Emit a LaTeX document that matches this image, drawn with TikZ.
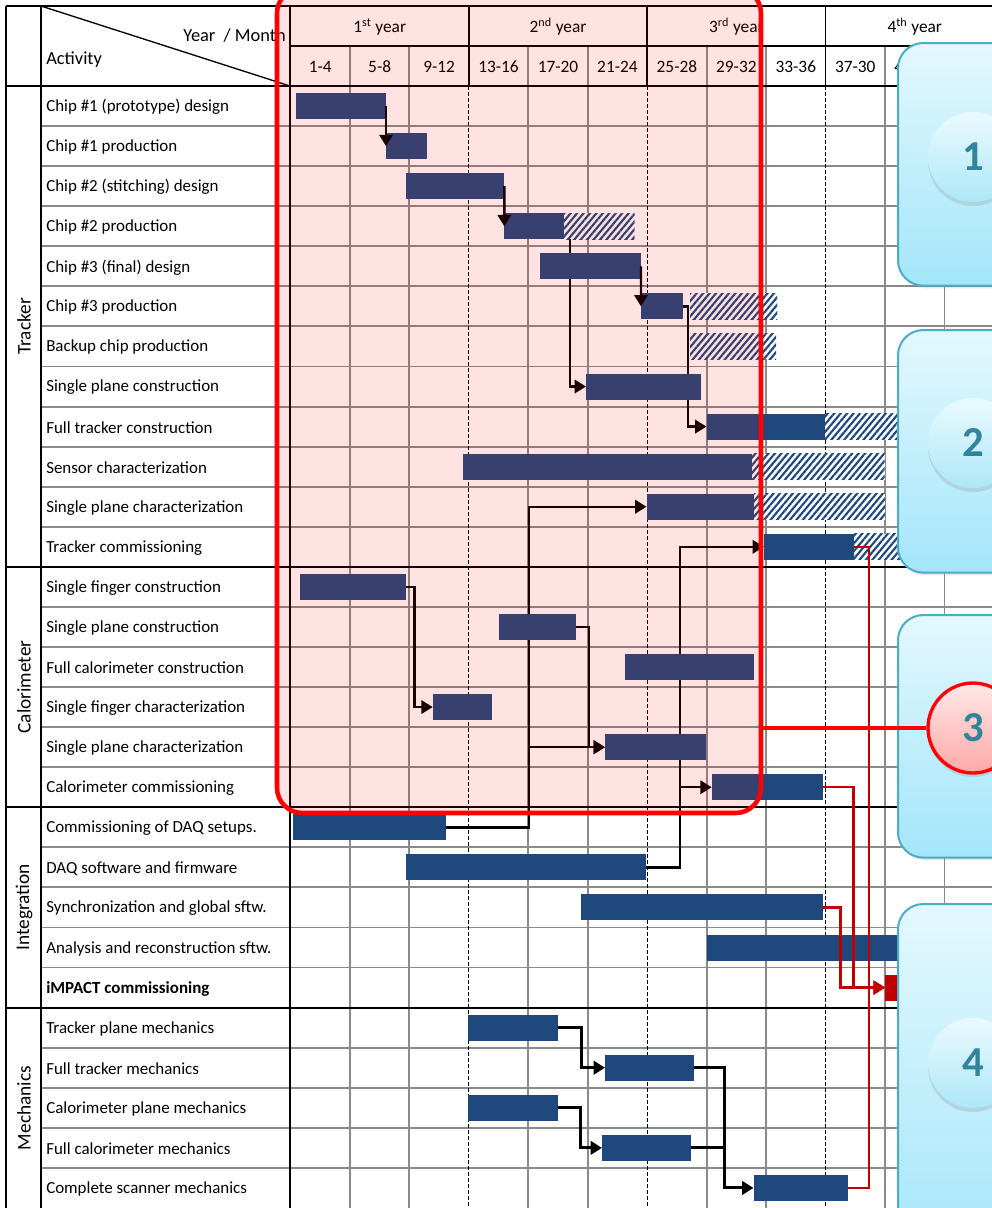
\documentclass[tikz,border=0pt]{standalone}
\usepackage{fontspec}
\setmainfont{Carlito}
\usetikzlibrary{arrows.meta,patterns.meta,shadows}

\definecolor{barblue}{HTML}{1F497D}
\definecolor{cellgray}{HTML}{8A8A8A}
\definecolor{linkred}{HTML}{C00000}
\definecolor{boxtop}{HTML}{E4F8FE}
\definecolor{boxbot}{HTML}{A3E5F9}
\definecolor{boxline}{HTML}{4BACC6}
\definecolor{numteal}{HTML}{31849B}
\definecolor{disctop}{HTML}{EAFAFE}
\definecolor{discbot}{HTML}{ADE7F8}
\definecolor{pinktop}{HTML}{FFE8E8}
\definecolor{pinkbot}{HTML}{FFA8A8}

% one bar of the chart: name, row, start, end
\newcommand{\gbar}[5][ganttbar]{%
  \node[#1, minimum width={(#5-#4)*0.75pt}] (#2) at (#4,{ry(#3)}) {};}

\begin{document}
\begin{tikzpicture}[x=0.75pt, y=-0.75pt,
  declare function={ry(\i)=106.03+40.07*\i; colx(\k)=290.5+59.45*\k;},
  tabrule/.style={black, line width=1.4pt},
  cellrule/.style={cellgray, line width=1.4pt},
  yearrule/.style={black, line width=0.7pt, dash pattern=on 3pt off 1.5pt},
  hd/.style={font=\fontsize{13}{15}\selectfont, inner sep=0pt},
  act/.style={font=\fontsize{12.7}{15}\selectfont, inner sep=0pt, anchor=west},
  grp/.style={font=\fontsize{14.5}{16}\selectfont, inner sep=0pt, rotate=90},
  ganttbar/.style={rectangle, fill=barblue, minimum height=19.5pt, inner sep=0pt, outer sep=0pt, anchor=west},
  hatchbar/.style={ganttbar, fill=white, postaction={pattern={Lines[angle=50,distance=3.7pt,line width=1.6pt]}, pattern color=barblue}},
  keybar/.style={ganttbar, fill=linkred},
  link/.style={black, line width=1.8pt, -{Triangle[length=8.5pt,width=10pt]}},
  mlink/.style={link, line width=2.3pt},
  rlink/.style={linkred, line width=1.9pt, -{Triangle[length=8.5pt,width=10pt]}},
  focusframe/.style={rectangle, rounded corners=19pt, fill=red, fill opacity=0.11, draw=red, line width=3.4pt, inner sep=0pt, outer sep=0pt, anchor=north west},
  callout/.style={rectangle, rounded corners=19pt, draw=boxline, line width=1.5pt, top color=boxtop, bottom color=boxbot, minimum width=122pt, inner sep=0pt, anchor=north west, drop shadow={shadow xshift=2pt, shadow yshift=-2pt, opacity=0.18}},
  numdisc/.style={circle, minimum size=67.5pt, inner sep=0pt, top color=disctop, bottom color=discbot, text=numteal, font=\fontsize{32}{32}\selectfont\bfseries, drop shadow={shadow xshift=0pt, shadow yshift=-3pt, opacity=0.22}}
]
\useasboundingbox (0,0) rectangle (992,1208);
\fill[white] (0,0) rectangle (992,1208);

% table
\foreach \i in {1,...,27}
  \draw[cellrule] (41,{86+40.07*\i}) -- (992,{86+40.07*\i});
\foreach \k in {1,2,4,5,7,8,10,11}
  \draw[cellrule] ({colx(\k)},46) -- ({colx(\k)},1208);
\foreach \k in {3,6,9} {
  \draw[tabrule] ({colx(\k)},6) -- ({colx(\k)},86);
  \draw[yearrule] ({colx(\k)},86) -- ({colx(\k)},1208);
}
\foreach \i in {12,18,23}
  \draw[tabrule] (6,{86+40.07*\i}) -- (992,{86+40.07*\i});
\draw[tabrule] (6,6) -- (992,6) (290,46) -- (992,46) (6,86) -- (992,86)
  (6,6) -- (6,1208) (41,6) -- (41,1208) (290,6) -- (290,1208);
\draw[line width=1pt] (41,6) -- (290,86);

% header
\node[hd, font=\fontsize{13.8}{15}\selectfont, anchor=east] (ym) at (286,35) {Year\ \ / Month};
\node[hd, font=\fontsize{13.8}{15}\selectfont, anchor=west] (actv) at (46,60) {Activity};
\foreach \yr [count=\k from 0] in {1\textsuperscript{st} year, 2\textsuperscript{nd} year, 3\textsuperscript{rd} year, 4\textsuperscript{th} year}
  \node[hd] (y\k) at ({colx(3*\k)+89.2},27) {\yr};
\foreach \m [count=\k from 0] in {1-4,5-8,9-12,13-16,17-20,21-24,25-28,29-32,33-36,37-30,41-44}
  \node[hd] (m\k) at ({colx(\k)+29.7},67) {\m};

% groups and activities
\node[grp] (gtrk) at (24,326.5) {Tracker};
\node[grp] (gcal) at (24,687) {Calorimeter};
\node[grp] (gint) at (24,907.5) {Integration};
\node[grp] (gmec) at (24,1108) {Mechanics};
\foreach \t [count=\i from 0] in {Chip \#1 (prototype) design, Chip \#1 production,
  Chip \#2 (stitching) design, Chip \#2 production, Chip \#3 (final) design,
  Chip \#3 production, Backup chip production, Single plane construction,
  Full tracker construction, Sensor characterization, Single plane characterization,
  Tracker commissioning, Single finger construction, Single plane construction,
  Full calorimeter construction, Single finger characterization,
  Single plane characterization, Calorimeter commissioning,
  Commissioning of DAQ setups., DAQ software and firmware,
  Synchronization and global sftw., Analysis and reconstruction sftw.,
  {\bfseries iMPACT commissioning}, Tracker plane mechanics, Full tracker mechanics,
  Calorimeter plane mechanics, Full calorimeter mechanics, Complete scanner mechanics}
  \node[act] (a\i) at (46,{ry(\i)+1}) {\t};

% bar positions first, links are drawn under the bars
\gbar{b0}{0}{296}{386}
\gbar{b1}{1}{386}{427}
\gbar{b2}{2}{406}{504.3}
\gbar{b3}{3}{504.3}{563.7}
\gbar[hatchbar]{h3}{3}{563.7}{634.5}
\gbar{b4}{4}{539.6}{641}
\gbar{b5}{5}{641}{682.6}
\gbar[hatchbar]{h5}{5}{690}{777}
\gbar[hatchbar]{h6}{6}{690}{776}
\gbar{b7}{7}{586}{701}
\gbar{b8}{8}{706.5}{825}
\gbar[hatchbar]{h8}{8}{825}{900}
\gbar{b9}{9}{462.6}{752}
\gbar[hatchbar]{h9}{9}{752}{884.5}
\gbar{b10}{10}{646.5}{754}
\gbar[hatchbar]{h10}{10}{754}{885}
\gbar{b11}{11}{764}{854}
\gbar[hatchbar]{h11}{11}{854}{900}
\gbar{b12}{12}{299.7}{406}
\gbar{b13}{13}{498.7}{576}
\gbar{b14}{14}{625}{753.6}
\gbar{b15}{15}{432.7}{492.2}
\gbar{b16}{16}{605}{706.1}
\gbar{b17}{17}{711.7}{823.3}
\gbar{b18}{18}{292.7}{446}
\gbar{b19}{19}{405.5}{646.3}
\gbar{b20}{20}{581.3}{823.3}
\gbar{b21}{21}{706.5}{900}
\gbar[keybar]{b22}{22}{885}{900}
\gbar{b23}{23}{468}{557.8}
\gbar{b24}{24}{605}{694.4}
\gbar{b25}{25}{468}{557.8}
\gbar{b26}{26}{602}{691}
\gbar{b27}{27}{753.5}{848.3}

% links
\draw[link] ([xshift=4.7pt]h3.west) |- (b7.west);
\draw[link] (b5.east) -- ++(5.4,0) |- (b8.west);
\path (b18.east) ++(83,0) coordinate (daqj);
\draw[link] (b18.east) -- (daqj) |- (b10.west);
\draw[link] (daqj |- b16.west) -- (b16.west);
\path (b19.east) ++(33.7,0) coordinate (fwj);
\draw[link] (b19.east) -- (fwj) |- (b11.west);
\draw[link] (fwj |- b17.west) -- (b17.west);
\draw[link] (b12.east) -- ++(8.3,0) |- (b15.west);
\draw[link] (b13.east) -- ++(13,0) |- (b16.west);
\draw[mlink] (b23.east) -- ++(23.5,0) |- (b24.west);
\draw[mlink] (b25.east) -- ++(23,0) |- (b26.west);
\draw[mlink] (b24.east) -- ++(30.4,0) coordinate (mj) |- (b27.west);
\draw[mlink, -] (b26.east) -- (b26.east -| mj);

% bars again on top of the links
\gbar{b3}{3}{504.3}{563.7}
\gbar[hatchbar]{h3}{3}{563.7}{634.5}
\gbar{b4}{4}{539.6}{641}
\gbar[hatchbar]{h5}{5}{690}{777}
\gbar{b7}{7}{586}{701}
\gbar{b13}{13}{498.7}{576}
\gbar{b14}{14}{625}{753.6}
\gbar{b16}{16}{605}{706.1}
\draw[link] (b0.east) -- (b1.west);
\draw[link] (b2.east) -- (b3.west);
\draw[link] (b4.east) -- (b5.west);

% highlighted part
\node[focusframe, minimum width={(761-277)*0.75pt}, minimum height={(813+12)*0.75pt}] (focus) at (277,-12) {};

% milestone links
\draw[rlink] (b11.east) -- ++(15,0) |- (b22.west);
\draw[rlink] (b17.east) -- ++(30,0) |- (b22.west);
\draw[rlink] (b20.east) -- ++(17,0) |- (b22.west);
\draw[rlink] (b27.east) -- ++(20.7,0) |- (b22.west);

% callouts
\node[callout, minimum height=182pt] (box1) at (897,42) {};
\node[callout, minimum height=182pt] (box2) at (897,329) {};
\node[callout, minimum height=182pt] (box3) at (897,614) {};
\node[callout, minimum height=270pt] (box4) at (897,903) {};
\node[numdisc] (n1) at (973,157) {1};
\node[numdisc] (n2) at (973,443) {2};
\node[numdisc, top color=pinktop, bottom color=pinkbot, draw=red, line width=2.5pt] (n3) at (973,728) {3};
\node[numdisc] (n4) at (973,1063) {4};
\draw[red, line width=3pt] (focus.east |- n3.west) -- (n3.west);

\end{tikzpicture}
\end{document}
